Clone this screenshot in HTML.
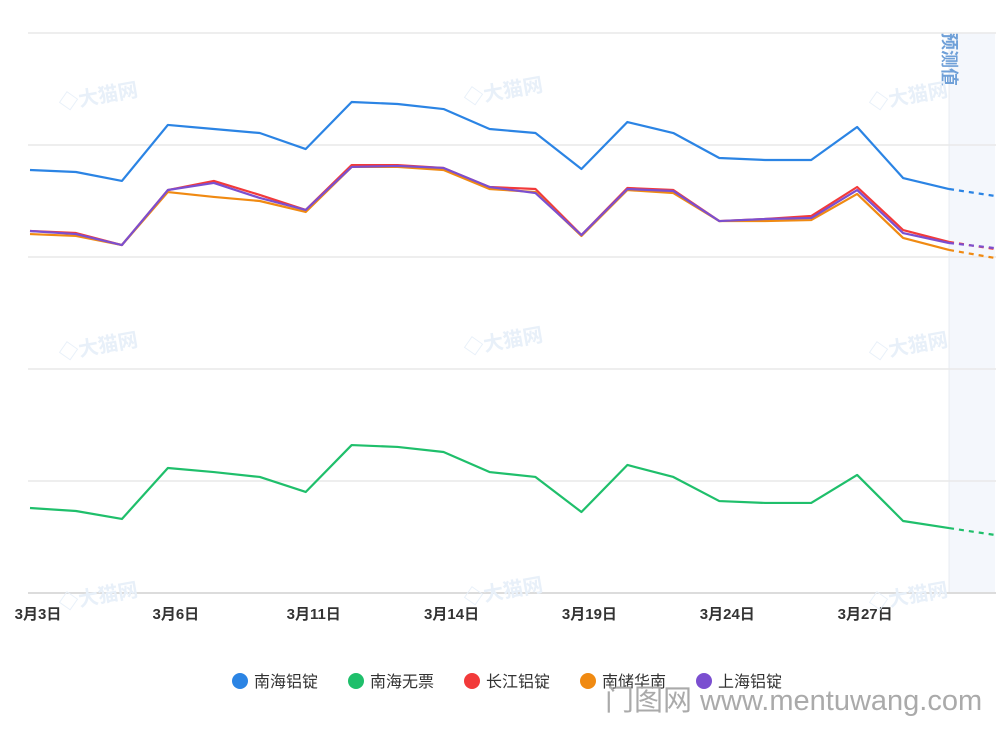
<!DOCTYPE html>
<html><head><meta charset="utf-8"><style>
body{margin:0;background:#fff;width:1000px;height:725px;overflow:hidden;font-family:"Liberation Sans","Noto Sans CJK SC",sans-serif}
</style></head><body>
<svg id="chart" width="1000" height="725" xmlns="http://www.w3.org/2000/svg" font-family="Liberation Sans, Noto Sans CJK SC, sans-serif"></svg>
<script>
const categories=["3月3日","3月4日","3月5日","3月6日","3月7日","3月10日","3月11日","3月12日","3月13日","3月14日","3月17日","3月18日","3月19日","3月20日","3月21日","3月24日","3月25日","3月26日","3月27日","3月28日","3月31日","预测"];
const seriesNames=["南海铝锭","南海无票","长江铝锭","南储华南","上海铝锭"];
const seriesColors=["#2b84e4","#1fbf6b","#f23a3a","#f08a12","#7b4fd0"];
const nanhai=[377.7,375.9,367.9,417.9,414.3,410.7,396.4,438.4,436.6,432.1,414.3,410.7,378.6,420.5,410.7,388.4,386.6,386.6,416.1,370.5,360.7,354.5];
const nanhaiWupiao=[75.9,73.2,66.1,111.6,108,103.6,90.2,132.1,130.4,125.9,108,103.6,72.3,114.3,103.6,82.1,80.4,80.4,105.4,64.3,58,51.8];
const changjiang=[323.2,321.4,310.7,359.8,367.9,355.4,342.0,382.1,382.1,379.5,362.5,360.7,319.6,361.6,359.8,332.1,333.9,336.6,362.5,324.1,313.4,307.1];
const nanchu=[320.5,318.8,310.7,358.0,353.6,350.0,340.2,380.4,380.4,377.7,360.7,358.0,318.8,359.8,357.1,332.1,332.1,333.0,356.3,317.0,306.3,299.1];
const shanghai=[323.2,320.5,310.7,359.8,366.1,352.7,342.0,380.4,381.3,379.5,362.5,357.1,319.6,360.7,358.9,332.1,333.9,334.8,359.8,321.4,312.5,308.0];
const yTicks=[0,100,200,300,400,500];
const series=[nanhai,nanhaiWupiao,changjiang,nanchu,shanghai];
const NS="http://www.w3.org/2000/svg";
const svg=document.getElementById('chart');
const x0=30,x1=995,yb=593,yt=33;
const xs=i=>x0+i*(x1-x0)/(categories.length-1);
const ys=v=>yb-(v-0)/(500-0)*(yb-yt);
function mk(t,a,p){const e=document.createElementNS(NS,t);for(const k in a)e.setAttribute(k,a[k]);(p||svg).appendChild(e);return e;}
const band=mk('rect',{x:xs(categories.length-2),y:yt,width:x1-xs(categories.length-2),height:yb-yt,fill:'#f4f7fc'});


const bl=mk('line',{x1:xs(categories.length-2),x2:xs(categories.length-2),y1:yt,y2:yb,stroke:'#e8ecf2'});


const ft=mk('text',{x:0,y:0,transform:`translate(${xs(categories.length-2)-6},32) rotate(90)`,fill:'#6fa0d8','font-size':18,'font-weight':'bold'});
ft.textContent='预测值';


yTicks.forEach(t=>{const g=mk('line',{x1:28,x2:996,y1:ys(t),y2:ys(t),stroke:t===0?'#dcdcdc':'#e9e9e9','stroke-width':t===0?2:1.5});

});
categories.forEach((c,i)=>{if(i%3!==0||i>=categories.length-1)return;const t=mk('text',{x:xs(i)+8,y:619,'text-anchor':'middle','font-size':15,fill:'#333','font-weight':'bold'});t.textContent=c;

});
[[60,110],[465,105],[870,110],[60,360],[465,355],[870,360],[60,610],[465,605],[870,610]].forEach(p=>{const w=mk('text',{x:p[0],y:p[1],'font-size':20,'font-weight':'bold',fill:'#e8f0f9',transform:`rotate(-10 ${p[0]} ${p[1]})`});w.textContent='◇大猫网';

});
series.forEach((s,k)=>{const n=s.length;let d='';for(let i=0;i<n-1;i++)d+=(i?'L':'M')+xs(i)+','+ys(s[i]);
const p=mk('path',{d:d,fill:'none',stroke:seriesColors[k],'stroke-width':2.2,'stroke-linejoin':'round'});


const f=mk('path',{d:'M'+xs(n-2)+','+ys(s[n-2])+'L'+xs(n-1)+','+ys(s[n-1]),fill:'none',stroke:seriesColors[k],'stroke-width':2.2,'stroke-dasharray':'5,5'});

});
seriesNames.forEach((nm,k)=>{const cx=240+k*116;const c=mk('circle',{cx:cx,cy:681,r:8,fill:seriesColors[k]});


const t=mk('text',{x:cx+14,y:687,'font-size':16,fill:'#333'});t.textContent=nm;

});
const wm=mk('text',{x:605,y:710,'font-size':29,fill:'#aaa'});wm.textContent='门图网 www.mentuwang.com';


</script>
</body></html>
